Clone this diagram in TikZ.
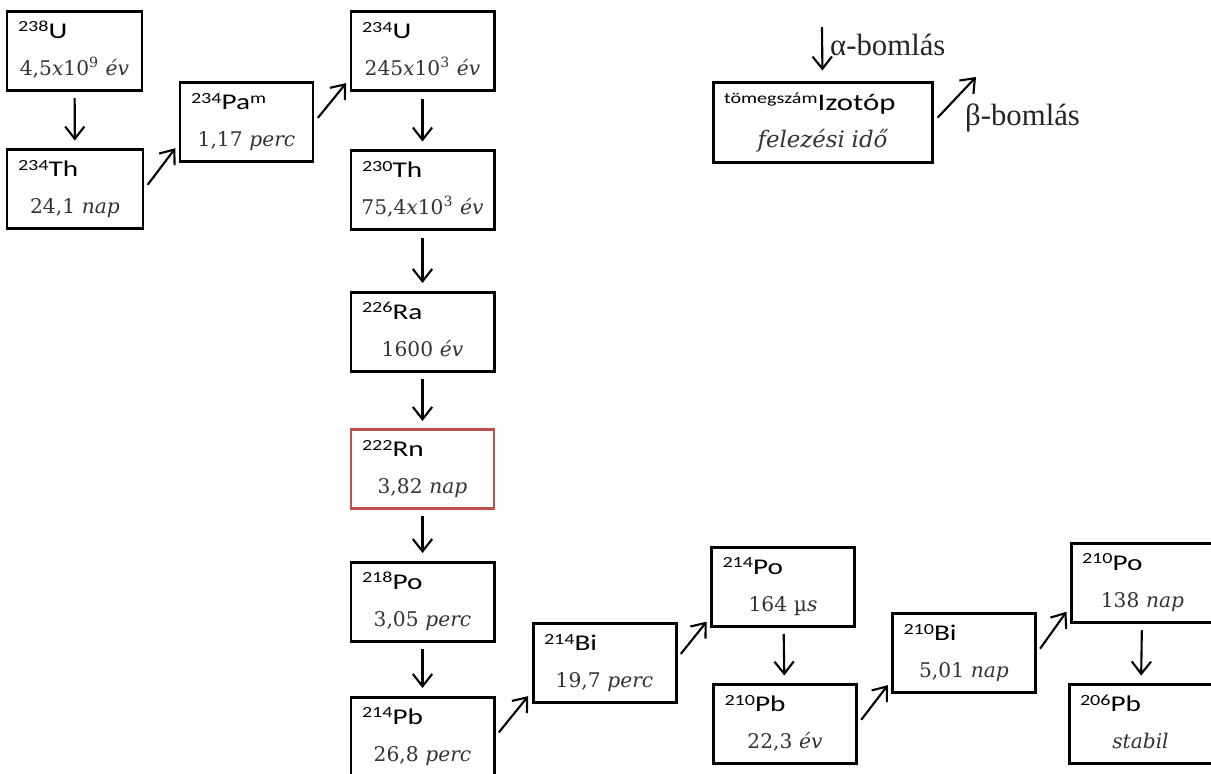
\documentclass[tikz,border=0pt]{standalone}
\usepackage{fontspec}
\setmainfont{DejaVu Serif}
\setsansfont[FakeStretch=1.3]{Carlito}
\newfontfamily\bomlasfont{Liberation Serif}
\usepackage{tikz}
\usetikzlibrary{arrows.meta}
\setlength{\parindent}{0pt}

\definecolor{rnred}{RGB}{192,80,77}

% mass number in front of the element
\newcommand{\massno}[1]{\raisebox{0.6ex}{\fontsize{8.8}{9}\selectfont #1}}
% isotope box: mass number, element, half-life
\newcommand{\iso}[3]{\raggedright\rule{0pt}{13pt}{\sffamily\fontsize{12.8}{14}\selectfont\massno{#1}#2}\par
  \makebox[\hsize][c]{\color{black!80}#3}\rule[-6pt]{0pt}{0pt}\par}

\begin{document}
\begin{tikzpicture}[
  iso/.style={draw, line width=1.7pt, rectangle, text width=2.42cm, inner xsep=0.22cm,
    inner ysep=0pt, minimum height=1.58cm, font=\fontsize{11.5}{21}\selectfont},
  adec/.style={->, line width=1.2pt, shorten <=0.13cm, shorten >=0.15cm},
  bdec/.style={->, line width=1.2pt, shorten <=3pt, shorten >=3pt},
  >={Straight Barb[length=7pt,width=11pt]}
]
\useasboundingbox (0,0) rectangle (24.22,-15.46);

\node (U238) at (1.49,-1.01) [iso, text width=2.26cm] {\iso{238}{U}{4,5\textit{x}10\textsuperscript{9} \textit{év}}};
\node (Th234) at (1.50,-3.78) [iso, text width=2.28cm] {\iso{234}{Th}{24,1 \textit{nap}}};
\node (Pa234) at (4.93,-2.44) [iso, text width=2.22cm] {\iso{234}{Pa\massno{m}}{1,17 \textit{perc}}};
\node (U234) at (8.45,-1.02) [iso] {\iso{234}{U}{245\textit{x}10\textsuperscript{3} \textit{év}}};
\node (Th230) at (8.45,-3.80) [iso] {\iso{230}{Th}{75,4\textit{x}10\textsuperscript{3} \textit{év}}};
\node (Ra226) at (8.45,-6.63) [iso] {\iso{226}{Ra}{1600 \textit{év}}};
\node (Rn222) at (8.45,-9.38) [iso, draw=rnred, line width=1.2pt] {\iso{222}{Rn}{3,82 \textit{nap}}};
\node (Po218) at (8.45,-12.03) [iso] {\iso{218}{Po}{3,05 \textit{perc}}};
\node (Pb214) at (8.45,-14.73) [iso] {\iso{214}{Pb}{26,8 \textit{perc}}};

\node (Bi214) at (12.09,-13.26) [iso] {\iso{214}{Bi}{19,7 \textit{perc}}};
\node (Po214) at (15.66,-11.73) [iso] {\iso{214}{Po}{164 µ\textit{s}}};
\node (Pb210) at (15.70,-14.48) [iso] {\iso{210}{Pb}{22,3 \textit{év}}};
\node (Bi210) at (19.28,-13.06) [iso] {\iso{210}{Bi}{5,01 \textit{nap}}};
\node (Po210) at (22.85,-11.65) [iso] {\iso{210}{Po}{138 \textit{nap}}};
\node (Pb206) at (22.81,-14.48) [iso] {\iso{206}{Pb}{\textit{stabil}}};

% legend
\node (legend) at (16.45,-2.44) [iso, text width=3.94cm, minimum height=1.6cm]
  {\raggedright\rule{0pt}{13pt}{\sffamily\raisebox{0.75ex}{\fontsize{8.8}{9}\selectfont tömegszám}\fontsize{13.5}{15}\selectfont Izotóp}\par
   \makebox[\hsize][c]{\color{black!80}\fontsize{13}{15}\selectfont\itshape felezési idő}\rule[-5pt]{0pt}{0pt}\par};
\coordinate (atop) at (16.44,-0.54);
\coordinate (btip) at (19.52,-1.54);
\node (alab) at (16.48,-0.9) [anchor=west, font=\bomlasfont\fontsize{17.5}{20}\selectfont, text=black!85] {α-bomlás};
\node (blab) at (19.18,-2.36) [anchor=west, font=\bomlasfont\fontsize{17.5}{20}\selectfont, text=black!85] {β-bomlás};
\draw [adec, shorten <=0pt, shorten >=0.2cm] (atop) -- (legend.north);
\draw [bdec, shorten <=0.12cm, shorten >=0pt] (legend.east) -- (btip);

% alpha decays
\draw [adec] (U238) -- (Th234);
\draw [adec] (U234) -- (Th230);
\draw [adec] (Th230) -- (Ra226);
\draw [adec] (Ra226) -- (Rn222);
\draw [adec] (Rn222) -- (Po218);
\draw [adec] (Po218) -- (Pb214);
\draw [adec] (Po214) -- (Pb210);
\draw [adec] (Po210) -- (Pb206);

% beta decays
\draw [bdec] (Th234.east) -- ([yshift=0.38cm]Pa234.south west);
\draw [bdec] (Pa234.east) -- ([yshift=0.26cm]U234.south west);
\draw [bdec] (Pb214.east) -- ([yshift=0.24cm]Bi214.south west);
\draw [bdec] ([yshift=0.1cm]Bi214.east) -- ([yshift=0.2cm]Po214.south west);
\draw [bdec] (Pb210.east) -- ([yshift=0.26cm]Bi210.south west);
\draw [bdec] (Bi210.east) -- ([yshift=0.32cm]Po210.south west);
\end{tikzpicture}
\end{document}
